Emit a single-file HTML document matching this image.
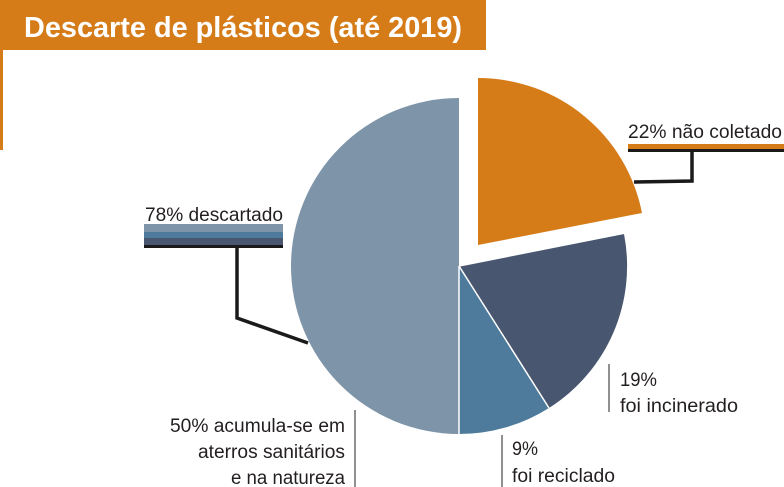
<!DOCTYPE html>
<html><head><meta charset="utf-8"><style>
html,body{margin:0;padding:0;background:#fff;}
svg{display:block;}
text{font-family:"Liberation Sans",sans-serif;fill:#231f20;}
</style></head><body>
<svg width="784" height="487" viewBox="0 0 784 487" xmlns="http://www.w3.org/2000/svg">
<rect x="0" y="0" width="486" height="50" fill="#d57b18"/>
<rect x="0" y="50" width="3" height="100" fill="#d57b18"/>
<text x="24" y="37" font-size="29" font-weight="bold" style="fill:#fff" textLength="438" lengthAdjust="spacingAndGlyphs">Descarte de plásticos (até 2019)</text>
<!-- pie -->
<path d="M459,266 L459,98 A168,168 0 0 0 459,434 Z" fill="#7e94a8"/>
<path d="M459,266 L459,434 A168,168 0 0 0 549,408 Z" fill="#4e7b9b"/>
<path d="M459,266 L549,408 A168,168 0 0 0 624,234 Z" fill="#48566f"/>
<path d="M478,245 L478,78 A167,167 0 0 1 642,213 Z" fill="#d57b18"/>
<line x1="459" y1="266" x2="549" y2="408" stroke="#fff" stroke-width="1.5"/>
<line x1="459" y1="266" x2="459" y2="434" stroke="#fff" stroke-width="1.5"/>
<line x1="459" y1="266" x2="625" y2="233" stroke="#fff" stroke-width="1.5"/>
<!-- 78% -->
<text x="145" y="221" font-size="19" textLength="138" lengthAdjust="spacingAndGlyphs">78% descartado</text>
<rect x="144" y="224" width="139" height="8" fill="#7e94a8"/>
<rect x="144" y="232" width="139" height="6" fill="#4e7b9b"/>
<rect x="144" y="238" width="139" height="7" fill="#48566f"/>
<rect x="144" y="245" width="139" height="3" fill="#1a1a1a"/>
<polyline points="237,247 237,318 308,343" fill="none" stroke="#1a1a1a" stroke-width="3.5"/>
<!-- 22% -->
<text x="628" y="138" font-size="19" textLength="154" lengthAdjust="spacingAndGlyphs">22% não coletado</text>
<rect x="628" y="144" width="156" height="5" fill="#d57b18"/>
<rect x="628" y="149" width="156" height="3" fill="#1a1a1a"/>
<polyline points="692,150 692,181 634,182" fill="none" stroke="#1a1a1a" stroke-width="3.5"/>
<!-- 19% -->
<line x1="609" y1="364" x2="609" y2="412" stroke="#231f20" stroke-width="1"/>
<text x="620" y="386" font-size="19" textLength="37" lengthAdjust="spacingAndGlyphs">19%</text>
<text x="620" y="412" font-size="19" textLength="118" lengthAdjust="spacingAndGlyphs">foi incinerado</text>
<!-- 9% -->
<line x1="502" y1="435" x2="502" y2="487" stroke="#231f20" stroke-width="1"/>
<text x="512" y="455" font-size="19" textLength="26" lengthAdjust="spacingAndGlyphs">9%</text>
<text x="512" y="482" font-size="19" textLength="103" lengthAdjust="spacingAndGlyphs">foi reciclado</text>
<!-- 50% -->
<line x1="355" y1="410" x2="355" y2="487" stroke="#231f20" stroke-width="1"/>
<text x="345" y="432" font-size="19" text-anchor="end" textLength="175" lengthAdjust="spacingAndGlyphs">50% acumula-se em</text>
<text x="345" y="458" font-size="19" text-anchor="end" textLength="147" lengthAdjust="spacingAndGlyphs">aterros sanitários</text>
<text x="345" y="484" font-size="19" text-anchor="end" textLength="114" lengthAdjust="spacingAndGlyphs">e na natureza</text>
</svg>
</body></html>
